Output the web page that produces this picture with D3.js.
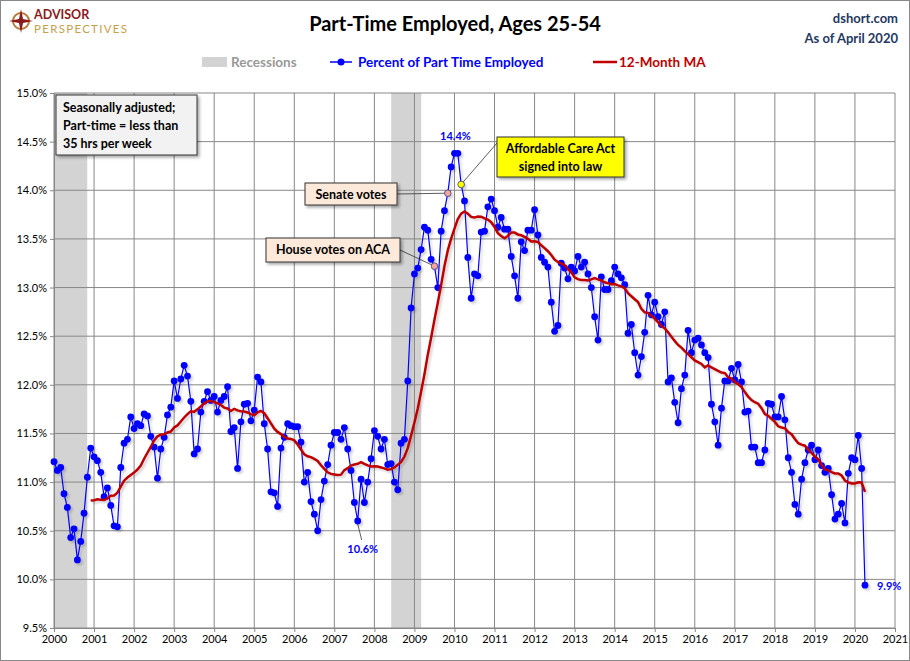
<!DOCTYPE html>
<html><head><meta charset="utf-8">
<script src="https://cdn.jsdelivr.net/npm/d3@7"></script>
<style>body{margin:0;background:#fff}svg text{font-family:Lato,"Open Sans",sans-serif}</style>
</head><body><svg id="c" width="910" height="661"></svg>
<script>
const startYear = 2000;
const values = [
11.21,11.12,11.15,10.88,10.74,10.43,10.52,10.2,10.39,10.68,11.05,11.35,
11.26,11.22,11.1,10.85,10.94,10.76,10.55,10.54,11.15,11.4,11.44,11.67,
11.55,11.6,11.58,11.7,11.68,11.47,11.36,11.04,11.34,11.46,11.69,11.77,
12.04,11.86,12.06,12.2,12.09,11.83,11.29,11.34,11.72,11.83,11.93,11.84,
11.88,11.72,11.84,11.88,11.98,11.52,11.56,11.14,11.62,11.8,11.81,11.63,
11.74,12.08,12.03,11.6,11.34,10.9,10.89,10.75,11.35,11.46,11.6,11.58,
11.57,11.57,11.41,11.0,11.1,10.8,10.67,10.5,10.82,11.01,11.18,11.38,
11.51,11.51,11.44,11.56,11.34,11.12,10.79,10.6,11.03,10.79,11.0,11.24,
11.53,11.47,11.34,11.44,11.18,11.19,11.0,10.92,11.4,11.44,12.04,12.79,
13.14,13.2,13.39,13.62,13.59,13.29,13.22,13.0,13.58,13.79,13.97,14.24,
14.38,14.38,14.06,13.89,13.31,12.89,13.14,13.12,13.57,13.58,13.83,13.91,
13.79,13.62,13.72,13.6,13.6,13.32,13.12,12.89,13.47,13.38,13.59,13.59,
13.8,13.54,13.31,13.26,13.21,12.85,12.55,12.61,13.25,13.2,13.09,13.21,
13.17,13.32,13.21,13.26,13.14,13.0,12.7,12.46,13.11,12.98,12.98,13.07,
13.21,13.14,13.1,13.03,12.53,12.62,12.33,12.1,12.29,12.54,12.92,12.72,
12.85,12.7,12.62,12.75,12.03,12.07,11.82,11.61,11.96,12.1,12.56,12.33,
12.46,12.48,12.41,12.33,12.28,11.8,11.62,11.38,11.76,12.04,12.04,12.17,
12.05,12.21,12.03,11.72,11.73,11.36,11.36,11.2,11.2,11.33,11.81,11.8,
11.67,11.67,11.88,11.64,11.25,11.1,10.77,10.67,11.03,11.2,11.33,11.38,
11.23,11.33,11.17,11.1,11.14,10.87,10.62,10.67,10.78,10.58,11.09,11.25,
11.23,11.48,11.14,9.94];
const recessions = [[2000.0,2000.83],[2008.42,2009.17]];
const yTicks = [9.5,10,10.5,11,11.5,12,12.5,13,13.5,14,14.5,15];
const xTicks = d3.range(2000,2022);
const callouts = [
 {idx:114, fill:"#F4A6A6", lines:["House votes on ACA"], box:[266,238,134,24], bg:"#FDE9D9", side:"right"},
 {idx:118, fill:"#F4A6A6", lines:["Senate votes"], box:[305,183,92,22], bg:"#FDE9D9", side:"right"},
 {idx:122, fill:"#FFFF00", lines:["Affordable Care Act","signed into law"], box:[497,137,127,40], bg:"#FFFF00", side:"left"}
];

const svg = d3.select("#c");
const L=54,R=895,T=93,B=628;
const x = d3.scaleLinear().domain([2000,2021]).range([L,R]);
const y = d3.scaleLinear().domain([9.5,15]).range([B,T]);
const xm = i => x(startYear + i/12);

svg.append("rect").attr("x",0.5).attr("y",0.5).attr("width",909).attr("height",660).attr("fill","#fff").attr("stroke","#888");
const defs = svg.append("defs");
const f = defs.append("filter").attr("id","sh").attr("x","-10%").attr("y","-10%").attr("width","120%").attr("height","120%");
f.append("feDropShadow").attr("dx",2).attr("dy",2).attr("stdDeviation",1.2).attr("flood-color","#000").attr("flood-opacity",0.18);
const f2 = defs.append("filter").attr("id","bs").attr("x","-20%").attr("y","-20%").attr("width","140%").attr("height","140%");
f2.append("feDropShadow").attr("dx",2).attr("dy",2).attr("stdDeviation",1.5).attr("flood-color","#000").attr("flood-opacity",0.35);

svg.selectAll(".rec").data(recessions).join("rect")
 .attr("x",d=>x(d[0])).attr("width",d=>x(d[1])-x(d[0])).attr("y",T).attr("height",B-T).attr("fill","#D3D3D3");
svg.append("g").selectAll("line").data(yTicks).join("line")
 .attr("x1",L).attr("x2",R).attr("y1",d=>y(d)).attr("y2",d=>y(d)).attr("stroke","#888");
svg.append("g").selectAll("line").data(xTicks).join("line")
 .attr("y1",T).attr("y2",B).attr("x1",d=>x(d)).attr("x2",d=>x(d)).attr("stroke","#888");
const ya = svg.append("g").attr("transform",`translate(${L},0)`).call(d3.axisLeft(y).tickValues(yTicks).tickFormat(d=>d.toFixed(1)+"%").tickSize(4));
ya.select(".domain").attr("stroke","#888");
ya.selectAll("text").attr("font-size",11).attr("fill","#000");
ya.selectAll("line").attr("stroke","#888");
const xa = svg.append("g").attr("transform",`translate(0,${B})`).call(d3.axisBottom(x).tickValues(xTicks).tickFormat(d3.format("d")).tickSize(4));
xa.select(".domain").attr("stroke","#888");
xa.selectAll("text").attr("font-size",11).attr("fill","#000");
xa.selectAll("line").attr("stroke","#888");

const data = values.map((v,i)=>({i,v}));
const g = svg.append("g").attr("filter","url(#sh)");
g.append("path").datum(data).attr("fill","none").attr("stroke","#0000FF").attr("stroke-width",1.2)
 .attr("d",d3.line().x(d=>xm(d.i)).y(d=>y(d.v)));
g.selectAll("circle").data(data).join("circle").attr("cx",d=>xm(d.i)).attr("cy",d=>y(d.v)).attr("r",3.4).attr("fill","#0000FF");
const ma = data.filter(d=>d.i>=11).map(d=>({i:d.i,v:d3.mean(values.slice(d.i-11,d.i+1))}));
g.append("path").datum(ma).attr("fill","none").attr("stroke","#C00000").attr("stroke-width",2.5)
 .attr("d",d3.line().x(d=>xm(d.i)).y(d=>y(d.v)));

callouts.forEach(c=>{
 const px=xm(c.idx), py=y(values[c.idx]);
 const [bx,by,bw,bh]=c.box;
 const ax = c.side==="right" ? bx+bw : bx;
 const ay = c.side==="right" ? by+bh/2 : by+6;
 svg.append("line").attr("x1",ax).attr("y1",ay).attr("x2",px).attr("y2",py).attr("stroke","#333").attr("stroke-width",0.8);
 svg.append("rect").attr("x",bx).attr("y",by).attr("width",bw).attr("height",bh).attr("fill",c.bg).attr("stroke","#333").attr("filter","url(#bs)");
 c.lines.forEach((t,k)=>svg.append("text").attr("x",bx+bw/2).attr("y",by+16+k*18).attr("text-anchor","middle").attr("font-size",12.5).attr("font-weight","bold").text(t));
 svg.append("circle").attr("cx",px).attr("cy",py).attr("r",3.2).attr("fill",c.fill).attr("stroke","#555").attr("stroke-width",0.7);
});

const lab=(t,xx,yy,a)=>svg.append("text").attr("x",xx).attr("y",yy).attr("text-anchor",a||"middle").attr("font-size",11).attr("font-weight","bold").attr("fill","#0000FF").text(t);
lab("14.4%",xm(120)+1,y(14.38)-13);
lab("10.6%",xm(91)+5,y(10.6)+32);
svg.append("line").attr("x1",xm(91)).attr("y1",y(10.6)+3).attr("x2",xm(91)+4).attr("y2",y(10.6)+19).attr("stroke","#333").attr("stroke-width",0.8);
lab("9.9%",xm(243)+12,y(9.94)+5,"start");

svg.append("rect").attr("x",56).attr("y",95).attr("width",141).attr("height",60).attr("fill","#F2F2F2").attr("stroke","#333").attr("filter","url(#bs)");
["Seasonally adjusted;","Part-time = less than","35 hrs per week"].forEach((t,k)=>svg.append("text").attr("x",63).attr("y",112+k*18).attr("font-size",12.5).attr("font-weight","bold").text(t));

svg.append("text").attr("x",455).attr("y",31).attr("text-anchor","middle").attr("font-size",20).attr("font-weight","bold").text("Part-Time Employed, Ages 25-54");
svg.append("text").attr("x",898).attr("y",23).attr("text-anchor","end").attr("font-size",13).attr("font-weight","bold").attr("fill","#1F3864").text("dshort.com");
svg.append("text").attr("x",898).attr("y",43).attr("text-anchor","end").attr("font-size",13).attr("font-weight","bold").attr("fill","#1F3864").text("As of April 2020");

const lg = svg.append("g");
lg.append("circle").attr("cx",21).attr("cy",21).attr("r",8).attr("fill","none").attr("stroke","#B5793A").attr("stroke-width",2);
lg.append("path").attr("d","M21 9 L23 19 L33 21 L23 23 L21 33 L19 23 L9 21 L19 19 Z").attr("fill","#8B1A1A");
lg.append("text").attr("x",34).attr("y",19).attr("font-size",12.5).attr("font-weight","bold").attr("fill","#8B1A1A").text("ADVISOR");
lg.append("text").attr("x",34).attr("y",33).attr("font-size",11.5).attr("fill","#C8A046").attr("textLength",93).text("PERSPECTIVES");

const leg = svg.append("g").attr("font-size",13.5).attr("font-weight","bold");
leg.append("rect").attr("x",202).attr("y",57).attr("width",25).attr("height",10).attr("fill","#D3D3D3");
leg.append("text").attr("x",231).attr("y",67).attr("fill","#999").text("Recessions");
leg.append("line").attr("x1",330).attr("x2",352).attr("y1",62).attr("y2",62).attr("stroke","#0000FF").attr("stroke-width",1.5);
leg.append("circle").attr("cx",341).attr("cy",62).attr("r",3.5).attr("fill","#0000FF");
leg.append("text").attr("x",358).attr("y",67).attr("fill","#0000FF").text("Percent of Part Time Employed");
leg.append("line").attr("x1",593).attr("x2",617).attr("y1",62).attr("y2",62).attr("stroke","#C00000").attr("stroke-width",2.5);
leg.append("text").attr("x",619).attr("y",67).attr("fill","#C00000").text("12-Month MA");
</script></body></html>
